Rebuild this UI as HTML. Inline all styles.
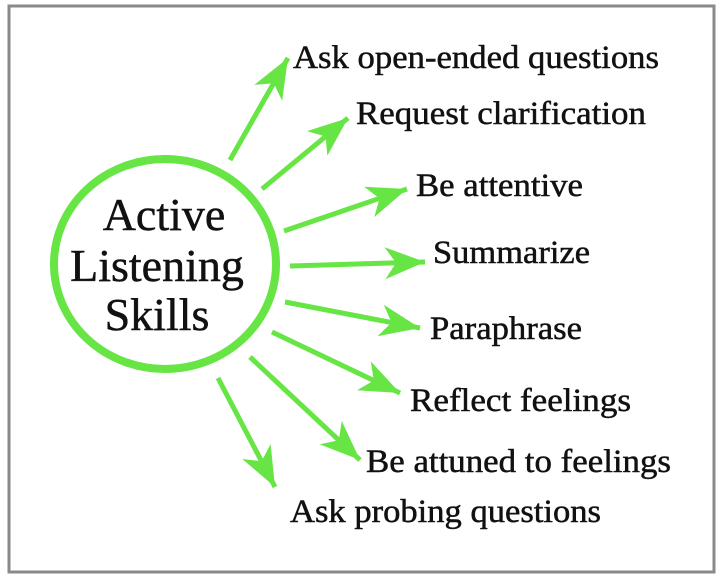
<!DOCTYPE html>
<html><head><style>
html,body{margin:0;padding:0;background:#fff;}
body{width:724px;height:578px;overflow:hidden;}
</style></head><body>
<svg width="724" height="578" xmlns="http://www.w3.org/2000/svg">
<defs>
<marker id="a" markerWidth="42" markerHeight="36" refX="40" refY="18" orient="auto" markerUnits="userSpaceOnUse">
<path d="M40,18 L0,2 L11,18 L0,34 Z" fill="#66e544"/>
</marker>
</defs>
<rect x="9" y="6" width="705" height="566" fill="#fff" stroke="#8a8a8a" stroke-width="3"/>
<ellipse cx="165" cy="264" rx="111" ry="105" fill="none" stroke="#66e544" stroke-width="8"/>
<g stroke="#66e544" stroke-width="5" fill="none" marker-end="url(#a)">
<line x1="230" y1="160" x2="288" y2="58"/>
<line x1="262" y1="189" x2="348" y2="118"/>
<line x1="284" y1="231" x2="407" y2="189"/>
<line x1="290" y1="266" x2="425" y2="262"/>
<line x1="285" y1="302" x2="420" y2="328"/>
<line x1="272" y1="332" x2="400" y2="393"/>
<line x1="250" y1="357" x2="360" y2="460"/>
<line x1="218" y1="378" x2="275" y2="487"/>
</g>
<g font-family="Liberation Serif, serif" font-size="33" fill="#111" stroke="#111" stroke-width="0.5">
<text x="293" y="68" textLength="366" lengthAdjust="spacingAndGlyphs">Ask open-ended questions</text>
<text x="356" y="124" textLength="290" lengthAdjust="spacingAndGlyphs">Request clarification</text>
<text x="416" y="196" textLength="167" lengthAdjust="spacingAndGlyphs">Be attentive</text>
<text x="433" y="263" textLength="157" lengthAdjust="spacingAndGlyphs">Summarize</text>
<text x="430" y="339" textLength="152" lengthAdjust="spacingAndGlyphs">Paraphrase</text>
<text x="410" y="411" textLength="221" lengthAdjust="spacingAndGlyphs">Reflect feelings</text>
<text x="366" y="472" textLength="305" lengthAdjust="spacingAndGlyphs">Be attuned to feelings</text>
<text x="290" y="522" textLength="311" lengthAdjust="spacingAndGlyphs">Ask probing questions</text>
</g>
<g font-family="Liberation Serif, serif" font-size="46" fill="#111" stroke="#111" stroke-width="0.5" text-anchor="middle">
<text x="164" y="230">Active</text>
<text x="157" y="281">Listening</text>
<text x="157" y="330">Skills</text>
</g>
</svg>
</body></html>
